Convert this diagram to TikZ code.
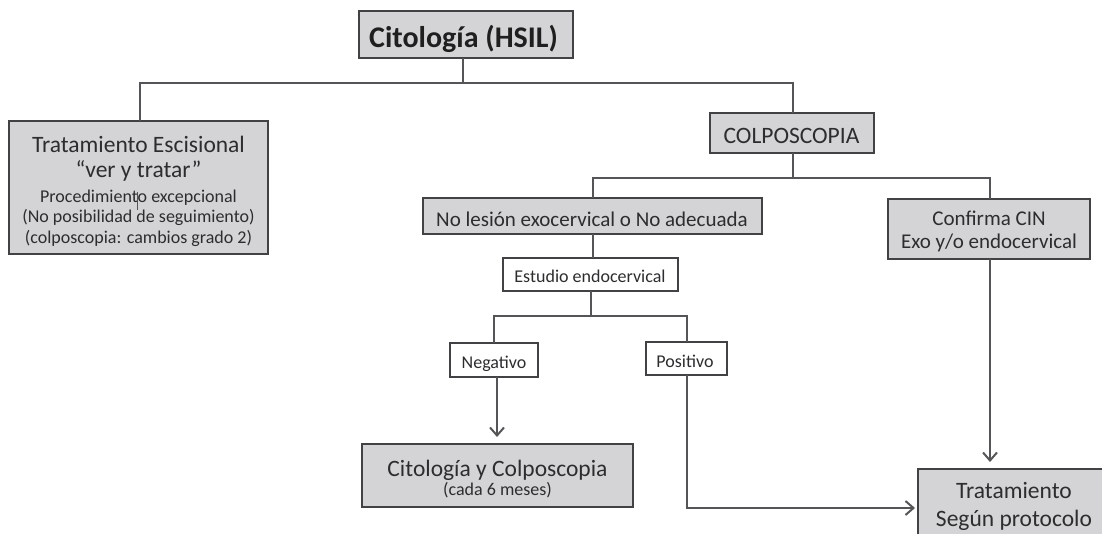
\documentclass[tikz,border=0pt]{standalone}
\usepackage{fontspec}
\setmainfont{Carlito}
\usetikzlibrary{arrows.meta}
\definecolor{boxfill}{RGB}{212,212,214}
\definecolor{boxedge}{RGB}{66,66,68}
\definecolor{txtcol}{RGB}{45,45,47}
\definecolor{wirecol}{RGB}{85,85,87}
\tikzset{
  graybox/.style={draw=boxedge, line width=1.5pt, fill=boxfill, inner sep=0pt, outer sep=0pt},
  whitebox/.style={draw=boxedge, line width=1.3pt, fill=white, inner sep=0pt, outer sep=0pt},
  lbl/.style={anchor=base, inner sep=0pt, text=txtcol},
  big/.style={lbl, font=\fontsize{23.5}{28}\selectfont},
  mid/.style={lbl, font=\fontsize{21}{25}\selectfont},
  small/.style={lbl, font=\fontsize{18}{22}\selectfont},
  wire/.style={draw=wirecol, line width=1.5pt},
  arrowwire/.style={wire, -{Straight Barb[length=8pt,width=14pt,line width=2pt]}},
}
\begin{document}
\begin{tikzpicture}[x=1pt,y=-1pt]
\useasboundingbox (0,0) rectangle (1102,533);
\clip (0,0) rectangle (1102,533);

% boxes
\node[graybox, minimum width=214, minimum height=47] (hsil) at (466,34.5) {};
\node[graybox, minimum width=259, minimum height=133] (tes) at (138.5,187.5) {};
\node[graybox, minimum width=164, minimum height=40] (colpo) at (792,133) {};
\node[graybox, minimum width=339, minimum height=36] (nolesion) at (592.5,216) {};
\node[graybox, minimum width=202, minimum height=60] (confirma) at (989,229) {};
\node[whitebox, minimum width=175, minimum height=33] (estudio) at (590.5,274.5) {};
\node[whitebox, minimum width=88, minimum height=34] (neg) at (494,360) {};
\node[whitebox, minimum width=81, minimum height=33] (pos) at (686.5,358.5) {};
\node[graybox, minimum width=271, minimum height=63] (cyc) at (497.5,475.5) {};
\node[graybox, minimum width=192, minimum height=91] (trat) at (1014,514.5) {};

% junction coordinates
\coordinate (j1) at (463,83);
\coordinate (bL) at (140,83);
\coordinate (bR) at (793,83);
\coordinate (c1) at (793,178);
\coordinate (c1L) at (593,178);
\coordinate (c1R) at (990,178);
\coordinate (e1) at (591,316);
\coordinate (e1L) at (494,316);
\coordinate (e1R) at (687,316);
\coordinate (a1) at (497,0);
\coordinate (pc) at (687,508);

% connectors
\draw[wire] (hsil.south -| j1) -- (j1);
\draw[wire] (tes.north -| bL) -- (bL) -- (bR) -- (colpo.north -| bR);
\draw[wire] (colpo.south -| c1) -- (c1);
\draw[wire] (nolesion.north -| c1L) -- (c1L) -- (c1R) -- (confirma.north -| c1R);
\draw[wire] (nolesion.south -| c1L) -- (estudio.north -| c1L);
\draw[wire] (estudio.south -| e1) -- (e1);
\draw[wire] (neg.north -| e1L) -- (e1L) -- (e1R) -- (pos.north -| e1R);
\draw[arrowwire, shorten >=7pt] (neg.south -| a1) -- (cyc.north -| a1);
\draw[arrowwire, shorten >=3pt] (pos.south -| pc) -- (pc) -- (trat.west |- pc);
\draw[arrowwire, shorten >=7pt] (confirma.south -| c1R) -- (trat.north -| c1R);

% stray mark inside the first box
\draw[wirecol, line width=1pt] (137,192) -- (137,210);

% texts
\node[lbl, font=\fontsize{30}{36}\selectfont\bfseries, text=black!88] (t0) at (463.5,47) {Citología (HSIL)};
\node[big] (t1a) at (138.5,152) {Tratamiento Escisional};
\node[big] (t1b) at (138.5,177) {“ver y tratar”};
\node[small] (t1c) at (138.5,202) {Procedimiento excepcional};
\node[small] (t1d) at (138.5,222) {(No posibilidad de seguimiento)};
\node[small] (t1e) at (138.5,243) {(colposcopia: cambios grado 2)};
\node[big] (t2) at (791.5,143) {COLPOSCOPIA};
\node[mid] (t3) at (592,226) {No lesión exocervical o No adecuada};
\node[mid] (t4a) at (989,225) {Confirma CIN};
\node[mid] (t4b) at (989,248) {Exo y/o endocervical};
\node[small] (t5) at (590,282) {Estudio endocervical};
\node[small] (t6) at (494,368) {Negativo};
\node[small] (t7) at (685,367) {Positivo};
\node[big] (t8a) at (497.5,476) {Citología y Colposcopia};
\node[small] (t8b) at (497.5,495) {(cada 6 meses)};
\node[big] (t9a) at (1014,498) {Tratamiento};
\node[big] (t9b) at (1014,526) {Según protocolo};
\end{tikzpicture}
\end{document}
